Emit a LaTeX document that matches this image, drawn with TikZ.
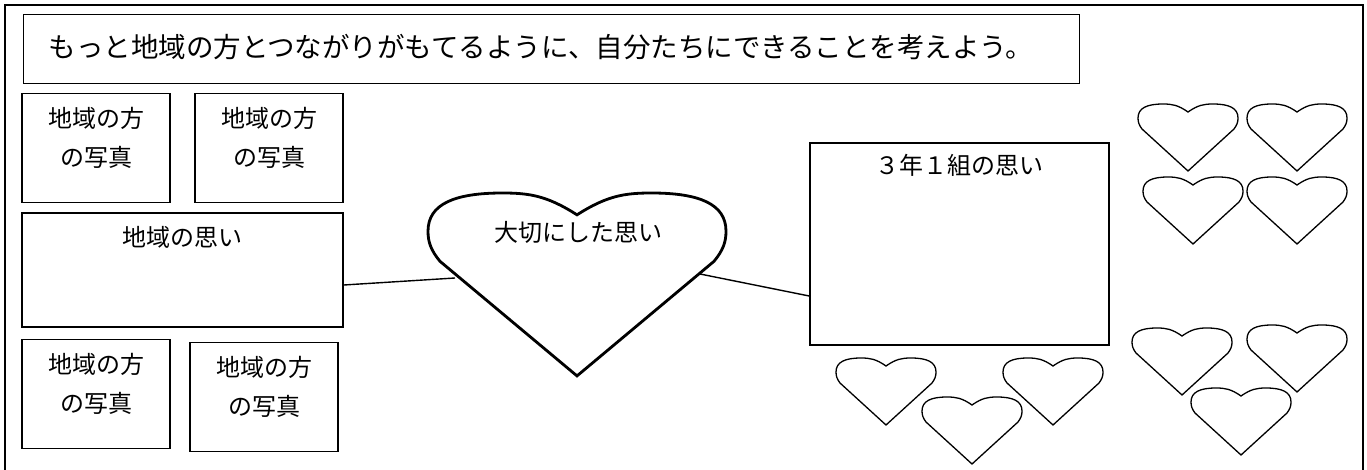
\documentclass[tikz,border=0pt]{standalone}
\usepackage{fontspec}
\newfontfamily\jp{Noto Sans CJK JP}
\usetikzlibrary{positioning}
\tikzset{
  box/.style={draw,line width=1.6pt,inner sep=0pt},
  txt/.style={font=\jp\fontsize{24}{39}\selectfont,align=center},
  heart/.pic={\draw (0,8) .. controls (10,1) and (16,0) .. (25,0) .. controls (41,0) and (50,4) .. (50,14)
    .. controls (50,18) and (49,21) .. (46,25) -- (0,67) -- (-46,25)
    .. controls (-49,21) and (-50,18) .. (-50,14) .. controls (-50,4) and (-41,0) .. (-25,0)
    .. controls (-16,0) and (-10,1) .. (0,8) -- cycle;}
}
\begin{document}
\begin{tikzpicture}[x=1pt,y=-1pt]
	\useasboundingbox (0,0) rectangle (1367,470);
	\fill[white] (0,0) rectangle (1367,470);
	\draw[line width=2pt] (5,470) -- (5,5) -- (1363,5) -- (1363,470);
	% title
	\node[draw,line width=1pt,minimum width=1056pt,minimum height=69pt,inner sep=0pt] (title) at (551,49.5) {};
	\node[anchor=west,font=\jp\fontsize{27.5}{32}\selectfont] (titletxt) at (45,47) {もっと地域の方とつながりがもてるように、自分たちにできることを考えよう。};
	% photo boxes
	\foreach \n/\x/\y in {p1/96/148,p2/269/148,p3/96/394,p4/264/397}
	  \node[box,minimum width=148pt,minimum height=109pt,
	    label={[txt,anchor=north,yshift=-11pt]north:地域の方\\の写真}] (\n) at (\x,\y) {};
	\node[box,minimum width=321pt,minimum height=114pt,
	  label={[txt,anchor=north,yshift=-11pt]north:地域の思い}] (chiiki) at (182.5,270) {};
	\node[box,minimum width=299pt,minimum height=202pt,
	  label={[txt,anchor=north,yshift=-9pt]north:３年１組の思い}] (kumi) at (959.5,244) {};
	% center heart
	\pic[line width=2.8pt,xscale=2.98,yscale=2.73] at (577,193) {heart};
	\node[txt] (taisetsu) at (578,232) {大切にした思い};
	\coordinate (hl) at (455,278);
	\coordinate (hr) at (700,274);
	\draw[line width=1.4pt] ([yshift=-15pt]chiiki.east) -- (hl);
	\draw[line width=1.4pt] (hr) -- ([yshift=-52pt]kumi.west);
	% small hearts
	\foreach \x/\y in {886/358,972/397,1053/358,1182/328,1297/325,1241/388,1188/104,1297/104,1193/177,1297/177}
	  \pic[line width=1.3pt] at (\x,\y) {heart};
\end{tikzpicture}
\end{document}
